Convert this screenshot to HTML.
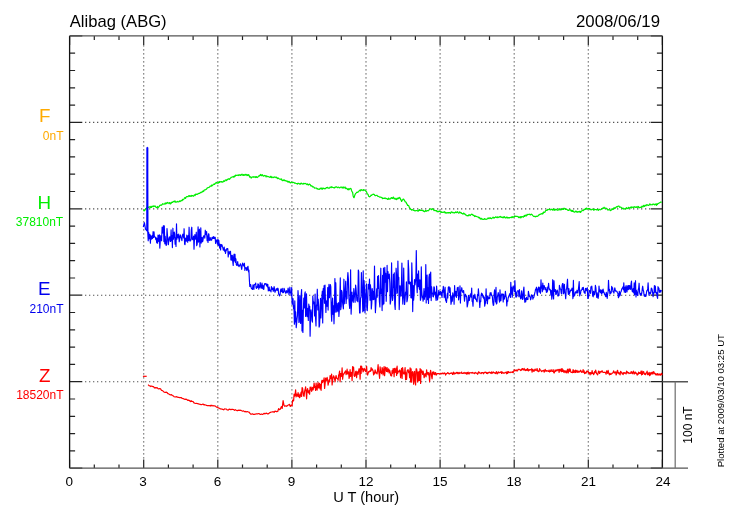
<!DOCTYPE html>
<html><head><meta charset="utf-8">
<style>
html,body{margin:0;padding:0;background:#fff;}
body{width:730px;height:520px;position:relative;overflow:hidden;font-family:"Liberation Sans",sans-serif;}
svg{position:absolute;left:0;top:0;will-change:transform;}
.t{position:absolute;white-space:pre;line-height:1;}
</style></head><body>
<svg width="730" height="520" viewBox="0 0 730 520">
<g stroke="#555" stroke-width="1.15" stroke-dasharray="1.3 2.7"><line x1="85" y1="122.3" x2="650.9" y2="122.3"/><line x1="85" y1="208.8" x2="650.9" y2="208.8"/><line x1="85" y1="295.2" x2="650.9" y2="295.2"/><line x1="85" y1="381.7" x2="650.9" y2="381.7"/><line x1="143.7" y1="45.3" x2="143.7" y2="460.1"/><line x1="217.8" y1="45.3" x2="217.8" y2="460.1"/><line x1="291.9" y1="45.3" x2="291.9" y2="460.1"/><line x1="366" y1="45.3" x2="366" y2="460.1"/><line x1="440.1" y1="45.3" x2="440.1" y2="460.1"/><line x1="514.2" y1="45.3" x2="514.2" y2="460.1"/><line x1="588.3" y1="45.3" x2="588.3" y2="460.1"/></g>
<path fill="none" stroke="#222" stroke-width="1.2" d="M69.6 35.9h12.7M662.4 35.9h-11.6M69.6 53.2h5.5M662.4 53.2h-5.5M69.6 70.5h5.5M662.4 70.5h-5.5M69.6 87.8h5.5M662.4 87.8h-5.5M69.6 105.1h5.5M662.4 105.1h-5.5M69.6 122.3h12.7M662.4 122.3h-11.6M69.6 139.6h5.5M662.4 139.6h-5.5M69.6 156.9h5.5M662.4 156.9h-5.5M69.6 174.2h5.5M662.4 174.2h-5.5M69.6 191.5h5.5M662.4 191.5h-5.5M69.6 208.8h12.7M662.4 208.8h-11.6M69.6 226.1h5.5M662.4 226.1h-5.5M69.6 243.4h5.5M662.4 243.4h-5.5M69.6 260.7h5.5M662.4 260.7h-5.5M69.6 278h5.5M662.4 278h-5.5M69.6 295.2h12.7M662.4 295.2h-11.6M69.6 312.5h5.5M662.4 312.5h-5.5M69.6 329.8h5.5M662.4 329.8h-5.5M69.6 347.1h5.5M662.4 347.1h-5.5M69.6 364.4h5.5M662.4 364.4h-5.5M69.6 381.7h12.7M662.4 381.7h-11.6M69.6 399h5.5M662.4 399h-5.5M69.6 416.3h5.5M662.4 416.3h-5.5M69.6 433.6h5.5M662.4 433.6h-5.5M69.6 450.9h5.5M662.4 450.9h-5.5M69.6 468.1h12.7M662.4 468.1h-11.6M69.6 35.9v9M69.6 468.1v-8.5M94.3 35.9v4M94.3 468.1v-3.5M119 35.9v4M119 468.1v-3.5M143.7 35.9v9M143.7 468.1v-8.5M168.4 35.9v4M168.4 468.1v-3.5M193.1 35.9v4M193.1 468.1v-3.5M217.8 35.9v9M217.8 468.1v-8.5M242.5 35.9v4M242.5 468.1v-3.5M267.2 35.9v4M267.2 468.1v-3.5M291.9 35.9v9M291.9 468.1v-8.5M316.6 35.9v4M316.6 468.1v-3.5M341.3 35.9v4M341.3 468.1v-3.5M366 35.9v9M366 468.1v-8.5M390.7 35.9v4M390.7 468.1v-3.5M415.4 35.9v4M415.4 468.1v-3.5M440.1 35.9v9M440.1 468.1v-8.5M464.8 35.9v4M464.8 468.1v-3.5M489.5 35.9v4M489.5 468.1v-3.5M514.2 35.9v9M514.2 468.1v-8.5M538.9 35.9v4M538.9 468.1v-3.5M563.6 35.9v4M563.6 468.1v-3.5M588.3 35.9v9M588.3 468.1v-8.5M613 35.9v4M613 468.1v-3.5M637.7 35.9v4M637.7 468.1v-3.5M662.4 35.9v9M662.4 468.1v-8.5"/>
<path fill="none" stroke="#111" stroke-width="1.3" d="M69.6 35.9V468.1M662.4 35.9V468.1"/>
<path fill="none" stroke="#555" stroke-width="1.4" d="M69.6 35.9H662.4M69.6 468.1H688M662.4 381.7H688"/>
<path fill="none" stroke="#777" stroke-width="1.3" d="M675.2 381.7V468.1"/>
<polyline fill="none" stroke="#00ee00" stroke-width="1.2" stroke-linejoin="round" points="143.6,211.2 144.1,210.1 144.6,210.7 145.1,209.5 145.6,209.1 146.1,208.3 146.6,208.3 147.1,207.2 147.6,207.1 148.1,207.4 148.6,207.5 149.1,206.8 149.6,207.2 150.1,206.8 150.6,207.6 151.1,206.2 151.6,207.4 152.1,206.5 152.6,206.5 153.1,205.9 153.6,206.6 154.1,206 154.6,206.3 155.1,206 155.6,206.5 156.1,207.5 156.6,207.6 157.1,207.4 157.6,206.5 158.1,207.6 158.6,207.2 159.1,206.7 159.6,205.6 160.1,205.1 160.6,205.2 161.1,205.5 161.6,204.8 162.1,204.7 162.6,203.7 163.1,204 163.6,204.1 164.1,204.2 164.6,204 165.1,203.1 165.6,203.9 166.1,202.8 166.6,203.5 167.1,203 167.6,202.4 168.1,203 168.6,203 169.1,203.7 169.6,202.5 170.1,202.8 170.6,203.9 171.1,203.4 171.6,202.3 172.1,202.2 172.6,202.4 173.1,201.7 173.6,201.7 174.1,201.1 174.6,201.8 175.1,200.9 175.6,202.2 176.1,202.1 176.6,201.9 177.1,201.9 177.6,201.3 178.1,201.8 178.6,201.9 179.1,201.5 179.6,200.9 180.1,201.6 180.6,200.9 181.1,200.9 181.6,200.3 182.1,200.7 182.6,199.3 183.1,199.8 183.6,199.4 184.1,198.8 184.6,197.8 185.1,197.6 185.6,198.4 186.1,197.1 186.6,196.6 187.1,196.5 187.6,196.7 188.1,196.6 188.6,195.8 189.1,195.7 189.6,196.3 190.1,195.7 190.6,196.2 191.1,196.4 191.6,195.4 192.1,195.8 192.6,195.6 193.1,196.1 193.6,196.2 194.1,195.2 194.6,194.8 195.1,195.5 195.6,194.1 196.1,194.4 196.6,194.3 197.1,193.8 197.6,194.3 198.1,193.9 198.6,193.3 199.1,193.3 199.6,193.5 200.1,192.8 200.6,192.3 201.1,192.7 201.6,192 202.1,192.2 202.6,191.3 203.1,190.8 203.6,191.5 204.1,190.3 204.6,189.9 205.1,189.8 205.6,189.7 206.1,189.3 206.6,189.1 207.1,188 207.6,187.9 208.1,187.6 208.6,187.5 209.1,187.3 209.6,187.1 210.1,186 210.6,186.1 211.1,186.3 211.6,185.1 212.1,185.8 212.6,185.4 213.1,184.7 213.6,184.5 214.1,183.9 214.6,184.3 215.1,183.6 215.6,183.1 216.1,182.4 216.6,182.6 217.1,183.3 217.6,182.8 218.1,182.7 218.6,183 219.1,181.6 219.6,182.4 220.1,181.7 220.6,181.9 221.1,181.5 221.6,181.6 222.1,182.3 222.6,181.9 223.1,182 223.6,180.8 224.1,181 224.6,181.4 225.1,180.2 225.6,180.2 226.1,179.8 226.6,180.6 227.1,179.6 227.6,179.7 228.1,178.9 228.6,178.8 229.1,179.2 229.6,179.3 230.1,178.4 230.6,178.1 231.1,177.4 231.6,177.2 232.1,177 232.6,176.8 233.1,177.1 233.6,176.5 234.1,177.1 234.6,175.9 235.1,176.4 235.6,175.1 236.1,175.4 236.6,175.3 237.1,175.5 237.6,175.1 238.1,175.2 238.6,175.5 239.1,174.6 239.6,175.1 240.1,175.1 240.6,175.4 241.1,174.5 241.6,174.8 242.1,174.2 242.6,175.1 243.1,175.3 243.6,174.6 244.1,175.3 244.6,175.1 245.1,174.3 245.6,175 246.1,174.4 246.6,174.8 247.1,175.6 247.6,174.7 248.1,175.3 248.6,174.7 249.1,175.4 249.6,177.2 250.1,176.6 250.6,177 251.1,178.1 251.6,177.2 252.1,177 252.6,176.8 253.1,177.3 253.6,176.7 254.1,176.9 254.6,176.8 255.1,177.5 255.6,176.7 256.1,177.3 256.6,176.7 257.1,177.5 257.6,177.2 258.1,176.8 258.6,176.4 259.1,175.6 259.6,175.8 260.1,175.1 260.6,174.4 261.1,175.4 261.6,175.7 262.1,174.6 262.6,175 263.1,176 263.6,176.1 264.1,175.9 264.6,175.4 265.1,175.7 265.6,175.8 266.1,176.9 266.6,175.9 267.1,176.2 267.6,176.7 268.1,176.7 268.6,176.7 269.1,176.9 269.6,177.2 270.1,177.4 270.6,176.3 271.1,176.3 271.6,177.6 272.1,177.7 272.6,177 273.1,177.1 273.6,177.6 274.1,177.2 274.6,176.9 275.1,177.1 275.6,177.3 276.1,177.7 276.6,177.2 277.1,178.1 277.6,178.5 278.1,177.9 278.6,178.4 279.1,178.7 279.6,179.1 280.1,179.1 280.6,179.2 281.1,179.7 281.6,178.9 282.1,180.4 282.6,180.6 283.1,180.5 283.6,179.9 284.1,180.7 284.6,180 285.1,180.7 285.6,180.6 286.1,181.2 286.6,180.9 287.1,180.9 287.6,182 288.1,181.4 288.6,182 289.1,181.4 289.6,182.3 290.1,182.7 290.6,182.8 291.1,182.2 291.6,182 292.1,182.8 292.6,182.4 293.1,182.5 293.6,182.4 294.1,182.8 294.6,183.2 295.1,182.9 295.6,183.3 296.1,183.5 296.6,183.7 297.1,183.4 297.6,184 298.1,183.3 298.6,183.4 299.1,183.6 299.6,184.1 300.1,183.7 300.6,184.1 301.1,183 301.6,183.4 302.1,183.9 302.6,183.9 303.1,184.1 303.6,183.3 304.1,183.4 304.6,183.7 305.1,183.7 305.6,183.4 306.1,183.9 306.6,184.4 307.1,184.6 307.6,184 308.1,184.7 308.6,185 309.1,184.2 309.6,184.2 310.1,184.5 310.6,185.4 311.1,186.1 311.6,185.8 312.1,186.1 312.6,186.9 313.1,186.8 313.6,186.8 314.1,187.5 314.6,188.1 315.1,188 315.6,188 316.1,188.2 316.6,188 317.1,189 317.6,188.6 318.1,189.2 318.6,189.1 319.1,189.5 319.6,189.3 320.1,188.3 320.6,188.7 321.1,188 321.6,189 322.1,188.2 322.6,189.2 323.1,188.1 323.6,188.4 324.1,188.4 324.6,188.8 325.1,188.4 325.6,188.7 326.1,187.9 326.6,187.5 327.1,187.6 327.6,187.3 328.1,188.2 328.6,188.1 329.1,188.1 329.6,188.1 330.1,187.1 330.6,187 331.1,187.7 331.6,186.7 332.1,187.1 332.6,187.4 333.1,187.5 333.6,187.5 334.1,188 334.6,188 335.1,187.1 335.6,187.2 336.1,186.8 336.6,186.9 337.1,187.4 337.6,187.7 338.1,187.2 338.6,187 339.1,187.8 339.6,187.8 340.1,187.6 340.6,187.1 341.1,187.1 341.6,187.2 342.1,188 342.6,188 343.1,186.8 343.6,188 344.1,187.9 344.6,187.7 345.1,186.9 345.6,188.4 346.1,188.7 346.6,188.2 347.1,188.6 347.6,189.5 348.1,189.8 348.6,188.7 349.1,189.7 349.6,189 350.1,188.5 350.6,188.4 351.1,188.8 351.6,190.7 352.1,191.6 352.6,192.4 353.1,195.7 353.6,197.3 354.1,197.7 354.6,195.8 355.1,194.6 355.6,193.5 356.1,193.1 356.6,192.4 357.1,192.2 357.6,192.3 358.1,192 358.6,191.7 359.1,190.8 359.6,190.3 360.1,190.1 360.6,190.9 361.1,189.5 361.6,190.2 362.1,190 362.6,190 363.1,190.5 363.6,189.6 364.1,190.2 364.6,189.9 365.1,190.2 365.6,191 366.1,191.3 366.6,191.9 367.1,193.7 367.6,194.1 368.1,194.4 368.6,196.3 369.1,196.5 369.6,196.9 370.1,196.3 370.6,196.1 371.1,195.1 371.6,195.3 372.1,194.8 372.6,194.5 373.1,194.1 373.6,194.4 374.1,194.4 374.6,195 375.1,195.6 375.6,195.6 376.1,195.5 376.6,195.4 377.1,195.3 377.6,196.2 378.1,196.3 378.6,196.5 379.1,196.7 379.6,197.2 380.1,197.2 380.6,197 381.1,197.4 381.6,197.6 382.1,197.7 382.6,198.6 383.1,198.4 383.6,198.3 384.1,198.2 384.6,198.3 385.1,197.8 385.6,198.4 386.1,198.7 386.6,198.4 387.1,198.7 387.6,199.5 388.1,199.3 388.6,198.1 389.1,199.2 389.6,198.9 390.1,198.9 390.6,198.8 391.1,197.8 391.6,197.6 392.1,198.3 392.6,198.4 393.1,197.3 393.6,197.1 394.1,198.7 394.6,198.9 395.1,198.3 395.6,199.3 396.1,198.9 396.6,199.5 397.1,198.2 397.6,198.8 398.1,198.1 398.6,198.5 399.1,197.4 399.6,198.1 400.1,197.9 400.6,199.5 401.1,200 401.6,201.5 402.1,200.4 402.6,199.8 403.1,199.2 403.6,199.2 404.1,199.9 404.6,200.6 405.1,201.8 405.6,201.9 406.1,202.3 406.6,203.8 407.1,204.1 407.6,205.5 408.1,205.4 408.6,205.5 409.1,206.7 409.6,208.2 410.1,208.2 410.6,209.3 411.1,209.3 411.6,210.1 412.1,209.5 412.6,209.8 413.1,209.8 413.6,210.3 414.1,210.3 414.6,210.8 415.1,211 415.6,210.6 416.1,210.7 416.6,210.5 417.1,210.5 417.6,210.7 418.1,211.3 418.6,210.1 419.1,210.3 419.6,209.6 420.1,210.5 420.6,210.4 421.1,210.3 421.6,210.5 422.1,210.4 422.6,210.6 423.1,210.4 423.6,211.2 424.1,211.6 424.6,211.6 425.1,210.9 425.6,210.5 426.1,211.4 426.6,210.8 427.1,210.7 427.6,210.7 428.1,210.8 428.6,210.2 429.1,209.9 429.6,209.3 430.1,209 430.6,209 431.1,208.8 431.6,209.7 432.1,209.2 432.6,208.7 433.1,209.3 433.6,209.7 434.1,210.6 434.6,210.2 435.1,210.7 435.6,210.5 436.1,210.9 436.6,210.6 437.1,211.7 437.6,211.3 438.1,211.8 438.6,211.6 439.1,211 439.6,211.3 440.1,211.4 440.6,212.1 441.1,211.6 441.6,212.5 442.1,212.4 442.6,212.3 443.1,212.1 443.6,212.4 444.1,212 444.6,211.7 445.1,212.9 445.6,212.4 446.1,213.1 446.6,212.9 447.1,212.8 447.6,212.6 448.1,213.1 448.6,212.5 449.1,212.7 449.6,212.6 450.1,213.2 450.6,213.3 451.1,212.1 451.6,211.9 452.1,212.3 452.6,212.7 453.1,212.3 453.6,212.8 454.1,213.1 454.6,212.6 455.1,212.6 455.6,211.9 456.1,212.5 456.6,212.6 457.1,212 457.6,211.7 458.1,212.6 458.6,213.1 459.1,212.6 459.6,212 460.1,212.9 460.6,212.3 461.1,212.5 461.6,213.4 462.1,213.5 462.6,213.9 463.1,214.1 463.6,213 464.1,213.6 464.6,214.2 465.1,214 465.6,215 466.1,215.1 466.6,215.3 467.1,215.8 467.6,215.6 468.1,215.9 468.6,215.1 469.1,214.6 469.6,215 470.1,215.6 470.6,215 471.1,214.6 471.6,214.2 472.1,214.3 472.6,214.5 473.1,215.5 473.6,215.2 474.1,215.5 474.6,216.5 475.1,215.8 475.6,216.5 476.1,216.3 476.6,216.5 477.1,216.8 477.6,217 478.1,216.8 478.6,217.7 479.1,217.8 479.6,217.4 480.1,218.8 480.6,219.1 481.1,218.3 481.6,218.6 482.1,219.4 482.6,219.2 483.1,219.2 483.6,219.4 484.1,219.4 484.6,218.6 485.1,218.9 485.6,219.3 486.1,219.3 486.6,219.2 487.1,219 487.6,218.8 488.1,217.8 488.6,218.3 489.1,218.7 489.6,218 490.1,217.6 490.6,218.3 491.1,218.4 491.6,218.7 492.1,218.2 492.6,217.7 493.1,217.1 493.6,217.9 494.1,218.1 494.6,217.5 495.1,217.5 495.6,216.8 496.1,217.1 496.6,217.4 497.1,217.6 497.6,216.9 498.1,217.6 498.6,217.2 499.1,217.1 499.6,216.6 500.1,217.2 500.6,216.4 501.1,216.8 501.6,217.5 502.1,217.5 502.6,217.7 503.1,216.7 503.6,217.7 504.1,217.1 504.6,216.7 505.1,217.8 505.6,217.9 506.1,218 506.6,217.1 507.1,217 507.6,218 508.1,217.6 508.6,217.9 509.1,217.6 509.6,217.9 510.1,217.4 510.6,217.5 511.1,217.6 511.6,216.9 512.1,217.5 512.6,216.7 513.1,217.4 513.6,216.8 514.1,216.9 514.6,216 515.1,216.4 515.6,216.4 516.1,216.1 516.6,216.5 517.1,216.5 517.6,216.4 518.1,216.7 518.6,217.6 519.1,216.7 519.6,217.5 520.1,217.9 520.6,216.6 521.1,217.7 521.6,216.7 522.1,216.6 522.6,216.5 523.1,217.2 523.6,216.9 524.1,215.6 524.6,216.4 525.1,215.2 525.6,215.3 526.1,216 526.6,215.6 527.1,214.3 527.6,214.8 528.1,214.3 528.6,214.5 529.1,214.5 529.6,214.1 530.1,214.8 530.6,215 531.1,214.2 531.6,214.3 532.1,214.7 532.6,215.3 533.1,215.8 533.6,216.3 534.1,216.3 534.6,216.4 535.1,216.6 535.6,216.8 536.1,216.2 536.6,216.3 537.1,216.4 537.6,216.2 538.1,215.8 538.6,215.5 539.1,214.4 539.6,214.6 540.1,214.5 540.6,214.1 541.1,213.7 541.6,213.8 542.1,214.1 542.6,213 543.1,213.6 543.6,212 544.1,212.2 544.6,212.3 545.1,212 545.6,210.6 546.1,210.5 546.6,210.1 547.1,210.4 547.6,209.4 548.1,209.7 548.6,209.5 549.1,209.2 549.6,209.6 550.1,209.7 550.6,209.9 551.1,209.6 551.6,209.2 552.1,209.6 552.6,210.1 553.1,209.1 553.6,209.8 554.1,209.1 554.6,210.3 555.1,209.4 555.6,209.8 556.1,209.2 556.6,209.8 557.1,210.1 557.6,210.2 558.1,210 558.6,210 559.1,208.7 559.6,209.8 560.1,208.7 560.6,209.8 561.1,209.9 561.6,209.4 562.1,209.2 562.6,209.3 563.1,208.4 563.6,209.4 564.1,208.2 564.6,208.5 565.1,208.7 565.6,209.4 566.1,209.2 566.6,209.3 567.1,209.6 567.6,210.1 568.1,210.4 568.6,210.5 569.1,209.9 569.6,209.7 570.1,209.9 570.6,210.1 571.1,211.1 571.6,210.3 572.1,211.4 572.6,210.5 573.1,211.6 573.6,211.2 574.1,211.9 574.6,212.2 575.1,212 575.6,211.2 576.1,211.1 576.6,211.6 577.1,212.4 577.6,211.8 578.1,211.5 578.6,211.8 579.1,212.2 579.6,211.4 580.1,211.3 580.6,212.4 581.1,211.4 581.6,211.1 582.1,210.6 582.6,210.2 583.1,210.7 583.6,210.3 584.1,209.2 584.6,209.6 585.1,209.5 585.6,208.5 586.1,209.1 586.6,208 587.1,209.1 587.6,209.2 588.1,208.5 588.6,208.6 589.1,208.7 589.6,208.6 590.1,209.7 590.6,209.6 591.1,209.8 591.6,209.7 592.1,209.3 592.6,209.1 593.1,209.5 593.6,210.2 594.1,209.1 594.6,209.8 595.1,209.5 595.6,209.5 596.1,209.6 596.6,209.9 597.1,209.3 597.6,209.3 598.1,210.3 598.6,210.2 599.1,209.6 599.6,209.3 600.1,209.6 600.6,209.8 601.1,209.4 601.6,208.8 602.1,208.8 602.6,208.2 603.1,208.5 603.6,208 604.1,207.2 604.6,208 605.1,208.6 605.6,208.3 606.1,208.1 606.6,208.6 607.1,208.7 607.6,209.9 608.1,210 608.6,209.6 609.1,209.9 609.6,209.8 610.1,210 610.6,210.5 611.1,210 611.6,210 612.1,208.5 612.6,209.4 613.1,209.2 613.6,208.8 614.1,207.6 614.6,208.4 615.1,208.3 615.6,207.7 616.1,207.1 616.6,206.6 617.1,207.1 617.6,206.5 618.1,206.2 618.6,206.1 619.1,206.2 619.6,207.3 620.1,207 620.6,207 621.1,207.4 621.6,207.8 622.1,208.6 622.6,208.2 623.1,208 623.6,209.1 624.1,209 624.6,208.7 625.1,209.2 625.6,208.4 626.1,208.3 626.6,207.7 627.1,208.5 627.6,208.4 628.1,208.7 628.6,207.3 629.1,207.8 629.6,207.8 630.1,207.7 630.6,207.1 631.1,208.1 631.6,206.9 632.1,207.6 632.6,207.1 633.1,207.2 633.6,207.7 634.1,206.7 634.6,207.1 635.1,206.8 635.6,207.3 636.1,207.2 636.6,207.3 637.1,206.5 637.6,207.3 638.1,207.3 638.6,206.5 639.1,207.8 639.6,207.6 640.1,207.5 640.6,207.4 641.1,206.8 641.6,207.3 642.1,206 642.6,206.7 643.1,206.9 643.6,205.4 644.1,206.1 644.6,206.4 645.1,205.1 645.6,205.5 646.1,205.8 646.6,204.8 647.1,204.6 647.6,205.2 648.1,205.3 648.6,205.4 649.1,204.9 649.6,204 650.1,205 650.6,204.2 651.1,204.5 651.6,204.7 652.1,205 652.6,204.3 653.1,203.8 653.6,204.3 654.1,204.4 654.6,204.8 655.1,204.1 655.6,204.6 656.1,204 656.6,205.4 657.1,203.8 657.6,204.3 658.1,203.5 658.6,203.3 659.1,203.2 659.6,202.7 660.1,202.4 660.6,202.1 661.1,202.1 661.6,202.4"/>
<polyline fill="none" stroke="#0000ff" stroke-width="1.15" stroke-linejoin="round" points="143.3,227 144.4,222.7 145.5,229.2 147,231 147.3,147.3 147.7,231.4 148.2,240.8 148.6,232 149,238.9 149.5,236.3 149.9,234.2 150.4,243.2 150.8,235.7 151.3,237.4 151.7,239.1 152.2,235.7 152.6,238.5 153.1,231.7 153.5,237.4 154,231.8 154.4,236.9 154.9,236.8 155.3,237.1 155.8,239.6 156.2,237.7 156.7,242.8 157.1,238.5 157.6,243.2 158,235.1 158.5,235.8 158.9,241.5 159.4,234.8 159.8,248.1 160.3,240.7 160.7,235.7 161.2,238.4 161.6,240.8 162.1,227.1 162.5,233.1 163,232 163.4,225.7 163.9,241.6 164.3,225.8 164.8,243.8 165.2,236.4 165.7,243 166.1,245.4 166.6,244.6 167,228.5 167.5,235.6 167.9,240.2 168.4,244.7 168.8,239.7 169.3,237.3 169.7,236.8 170.2,241.2 170.6,241.4 171.1,229.9 171.5,240.6 172,235.6 172.4,247.6 172.9,228.2 173.3,239.5 173.8,237.2 174.2,232 174.7,233.9 175.1,244.2 175.6,237.8 176,246.5 176.5,223.9 176.9,239.1 177.4,234.6 177.8,236.7 178.3,237.9 178.7,234.1 179.2,241.8 179.6,239.8 180.1,235.7 180.5,234.9 181,237.5 181.4,238.3 181.9,240.7 182.3,236.3 182.8,234.2 183.2,234.4 183.7,238 184.1,228.7 184.6,244.2 185,244.6 185.5,238 185.9,240 186.4,241.2 186.8,235.1 187.3,237.7 187.7,242.3 188.2,235.6 188.6,240.5 189.1,227.2 189.5,239 190,241.2 190.4,240.3 190.9,240.2 191.3,229.9 191.8,227.2 192.2,239.1 192.7,239.7 193.1,239 193.6,236.1 194,249.2 194.5,238.5 194.9,234.5 195.4,237.9 195.8,239.3 196.3,232.2 196.7,245.7 197.2,244 197.6,238.2 198.1,226.9 198.5,242.1 199,239.6 199.4,229.2 199.9,247 200.3,238.8 200.8,227.8 201.2,243.1 201.7,239.1 202.1,237.3 202.6,241.8 203,240.2 203.5,236.5 203.9,235.7 204.4,235.9 204.8,238.2 205.3,230.2 205.7,233.9 206.2,234.6 206.6,231.6 207.1,240.6 207.5,236 208,242.4 208.4,233.8 208.9,234 209.3,240.5 209.8,239.9 210.2,237.6 210.7,240.2 211.1,239.5 211.6,240.1 212,237.3 212.5,238.1 212.9,238.6 213.4,236.5 213.8,238.4 214.3,237.1 214.7,238.6 215.2,237.4 215.6,243.4 216.1,241.1 216.5,240 217,240.3 217.4,244.1 217.9,239.4 218.3,245.5 218.8,240.4 219.2,244.6 219.7,248.1 220.1,244.2 220.6,249.9 221,244.5 221.5,246.3 221.9,244.7 222.4,246.5 222.8,247.6 223.3,250.2 223.7,249.7 224.2,247 224.6,251.1 225.1,249.5 225.5,253.4 226,250.3 226.4,250.4 226.9,248.5 227.3,248.5 227.8,248.8 228.2,257 228.7,251.9 229.1,252 229.6,254 230,251.3 230.5,251.3 230.9,260 231.4,255.3 231.8,260.2 232.3,255.4 232.7,261.1 233.2,265.4 233.6,256.9 234.1,254.1 234.5,261 235,254.4 235.4,262.4 235.9,258.7 236.3,264.7 236.8,265.3 237.2,264.9 237.7,261.6 238.1,265.7 238.6,265 239,266.7 239.5,265.5 239.9,265.2 240.4,263.8 240.8,264.8 241.3,267.3 241.7,269.5 242.2,265.5 242.6,263.1 243.1,264.2 243.5,265.5 244,266.3 244.4,263.2 244.9,270.4 245.3,267.7 245.8,268.2 246.2,267.5 246.7,270.4 247.1,270.2 247.6,267 248,266.3 248.5,271.8 248.9,270.1 249.4,280.3 249.8,286.5 250.3,284.5 250.7,284.5 251.2,287.8 251.6,288.7 252.1,288.6 252.5,289.4 253,284.8 253.4,285.3 253.9,289.4 254.3,284.8 254.8,284.5 255.2,284 255.7,283 256.1,287.9 256.6,288.5 257,286.5 257.5,287.5 257.9,283.9 258.4,284.2 258.8,289.2 259.3,285.9 259.7,287.5 260.2,282.6 260.6,284.6 261.1,288.2 261.5,287.9 262,283.1 262.4,288.3 262.9,285.4 263.3,289.3 263.8,289.4 264.2,285.3 264.7,283.6 265.1,284.2 265.6,283.5 266,283.9 266.5,285.8 266.9,284.1 267.4,287 267.8,284.3 268.3,290.9 268.7,289.5 269.2,287 269.6,290.7 270.1,290.6 270.5,290.2 271,291.9 271.4,286.6 271.9,288.3 272.3,289.5 272.8,288 273.2,291.1 273.7,290.9 274.1,286.5 274.6,288.9 275,292.3 275.5,290.7 275.9,290.6 276.4,288.7 276.8,288.9 277.3,290.3 277.7,288.2 278.2,288.8 278.6,294.1 279.1,294.4 279.5,295.9 280,295.1 280.4,291.2 280.9,289 281.3,291.5 281.8,291.7 282.2,288.4 282.7,292.7 283.1,292.3 283.6,292.6 284,288.3 284.5,289.6 284.9,291.5 285.4,292.1 285.8,293.3 286.3,290.7 286.7,291 287.2,292.8 287.6,291.5 288.1,288.1 288.5,290.1 289,294.7 289.4,291.3 289.9,287.2 290.3,292.7 290.8,292.6 291.2,295.6 291.7,287.6 292.1,304.3 292.6,303.7 293,298.5 293.5,308.6 293.9,305.7 294.4,324.2 294.8,300.9 295.3,322 295.7,311.9 296.2,327.6 296.6,323.9 297.1,318.3 297.5,315.3 298,290.5 298.4,297 298.9,322.5 299.3,309 299.8,295.6 300.2,321.5 300.7,323.5 301.1,296.1 301.6,289.6 302,330.9 302.5,310.4 302.9,332.4 303.4,308.7 303.8,298 304.3,307.9 304.7,294.2 305.2,291.9 305.6,316.5 306.1,312.9 306.5,293.8 307,316.6 307.4,312 307.9,308.3 308.3,320.4 308.8,304 309.2,309.2 309.7,306.2 310.1,336.2 310.6,313.6 311,309.9 311.5,313.3 311.9,320.4 312.4,322.2 312.8,296 313.3,303.3 313.7,301.8 314.2,305.3 314.6,315.9 315.1,294.1 315.5,317 316,325.9 316.4,306 316.9,303.8 317.3,289.2 317.8,309.9 318.2,299.2 318.7,306.6 319.1,327.1 319.6,325.3 320,313.8 320.5,298.4 320.9,317.9 321.4,307.9 321.8,298.3 322.3,291.2 322.7,323 323.2,288.6 323.6,298.7 324.1,285.7 324.5,303.3 325,285 325.4,298.6 325.9,312.5 326.3,300.8 326.8,303.7 327.2,306.3 327.7,287.6 328.1,310.1 328.6,289.4 329,284.3 329.5,297.7 329.9,292 330.4,284.5 330.8,286.9 331.3,313.4 331.7,321.2 332.2,303.3 332.6,298.1 333.1,314.5 333.5,305.7 334,323.8 334.4,309.1 334.9,278.6 335.3,312.1 335.8,282.7 336.2,300.5 336.7,311.9 337.1,303.3 337.6,310.2 338,311.2 338.5,302.7 338.9,316.4 339.4,308.6 339.8,299 340.3,277.9 340.7,309.7 341.2,306.4 341.6,290.4 342.1,292.5 342.5,302.2 343,305.9 343.4,308.8 343.9,279.2 344.3,303.8 344.8,296.4 345.2,290.1 345.7,281.2 346.1,303.4 346.6,291.7 347,298.8 347.5,278.4 347.9,272.6 348.4,279.2 348.8,295.7 349.3,304.4 349.7,308.4 350.2,299.4 350.6,269.8 351.1,314.1 351.5,305.7 352,292 352.4,301 352.9,295.5 353.3,302.3 353.8,288.6 354.2,292.8 354.7,297.2 355.1,302.3 355.6,285 356,288.1 356.5,295 356.9,300.7 357.4,297.4 357.8,301.7 358.3,270 358.7,271.4 359.2,299.7 359.6,312.9 360.1,312.9 360.5,298.3 361,297 361.4,272.6 361.9,287.6 362.3,293.2 362.8,311.8 363.2,270.9 363.7,310.7 364.1,280.5 364.6,291.8 365,312.8 365.5,295.7 365.9,294.1 366.4,283.9 366.8,307.6 367.3,310.7 367.7,300.6 368.2,284.4 368.6,285.1 369.1,288.8 369.5,279.1 370,300.2 370.4,284.7 370.9,290 371.3,308.9 371.8,303 372.2,288.6 372.7,293.2 373.1,299.7 373.6,291 374,299.3 374.5,266 374.9,293.2 375.4,312.6 375.8,305.8 376.3,296.5 376.7,288.8 377.2,297.2 377.6,276.3 378.1,288.4 378.5,275.6 379,290.1 379.4,301.8 379.9,307 380.3,289.5 380.8,268.2 381.2,293.3 381.7,289.2 382.1,310.6 382.6,275.3 383,304.7 383.5,268 383.9,303.7 384.4,282 384.8,267.4 385.3,282.2 385.7,273.3 386.2,301.3 386.6,290.1 387.1,265.4 387.5,291.6 388,271.5 388.4,278.7 388.9,276.7 389.3,274 389.8,283.2 390.2,304.1 390.7,301.5 391.1,291.2 391.6,262.9 392,295.3 392.5,300.5 392.9,297.8 393.4,274.4 393.8,287.7 394.3,272.8 394.7,304.3 395.2,309.4 395.6,291.9 396.1,268.2 396.5,274.1 397,293.4 397.4,292.8 397.9,261 398.3,279.4 398.8,277.4 399.2,309.6 399.7,296.6 400.1,285.7 400.6,292.4 401,296.1 401.5,282.3 401.9,263 402.4,292.8 402.8,304.1 403.3,294.7 403.7,268.1 404.2,294.7 404.6,304.5 405.1,299.2 405.5,292.2 406,294.5 406.4,281.9 406.9,301.8 407.3,300.1 407.8,296.5 408.2,260.4 408.7,269.2 409.1,283.6 409.6,281.9 410,284.1 410.5,282.2 410.9,297.8 411.4,298 411.8,262.9 412.3,280.3 412.7,311.6 413.2,285.5 413.6,300.2 414.1,294.4 414.5,279.6 415,284.9 415.4,282.2 415.9,276.6 416.3,250.6 416.8,285 417.2,292.8 417.7,274.1 418.1,286.5 418.6,270.9 419,286.7 419.5,289.4 419.9,279.8 420.4,300.3 420.8,298.9 421.3,266.8 421.7,289.5 422.2,297.3 422.6,296.4 423.1,301.1 423.5,296.9 424,288.5 424.4,299.3 424.9,291.3 425.3,296.8 425.8,264.5 426.2,302.9 426.7,275.9 427.1,275.1 427.6,299.8 428,287.9 428.5,303.4 428.9,277.6 429.4,274.1 429.8,297.8 430.3,276.1 430.7,272.1 431.2,300.6 431.6,286.7 432.1,293.5 432.5,293 433,296.6 433.4,296.9 433.9,286.8 434.3,287.1 434.8,294.7 435.2,292.1 435.7,297.1 436.1,300.5 436.6,286 437,292.7 437.5,299.9 437.9,297.3 438.4,294.9 438.8,290.3 439.3,294.8 439.7,294.7 440.2,291.7 440.6,291.5 441.1,295.2 441.5,292.4 442,297.5 442.4,290.4 442.9,292.2 443.3,286.4 443.8,291 444.2,297.7 444.7,292 445.1,287.2 445.6,300.1 446,300.8 446.5,302.5 446.9,298.5 447.4,293.4 447.8,297.9 448.3,287.3 448.7,286.7 449.2,286.7 449.6,292.5 450.1,287.9 450.5,295.5 451,304.3 451.4,301.6 451.9,295.8 452.3,301.1 452.8,292.9 453.2,295.3 453.7,295.9 454.1,304.3 454.6,285.6 455,295.8 455.5,296 455.9,291.3 456.4,297.5 456.8,294.1 457.3,287.7 457.7,288.2 458.2,287.2 458.6,299.9 459.1,296 459.5,293.9 460,285.9 460.4,303.1 460.9,290.3 461.3,290.7 461.8,287.7 462.2,291 462.7,292.2 463.1,292.4 463.6,290.5 464,294.4 464.5,301.1 464.9,297.5 465.4,294.2 465.8,296.1 466.3,295.8 466.7,297.2 467.2,307 467.6,304.8 468.1,301.8 468.5,295.4 469,300.6 469.4,300.4 469.9,296.7 470.3,296.2 470.8,293.7 471.2,297.2 471.7,288 472.1,301.3 472.6,301.7 473,306.2 473.5,295.6 473.9,295.7 474.4,298.3 474.8,294.2 475.3,297 475.7,299.4 476.2,299.1 476.6,300.9 477.1,301.8 477.5,294.6 478,295.4 478.4,288.8 478.9,295.3 479.3,299.8 479.8,307.4 480.2,301.1 480.7,301.6 481.1,295.1 481.6,293.1 482,295.3 482.5,294 482.9,297.2 483.4,295.8 483.8,298.7 484.3,297.1 484.7,306.2 485.2,303.4 485.6,303 486.1,288.8 486.5,300.3 487,296.3 487.4,303.8 487.9,295.9 488.3,298.9 488.8,297.8 489.2,297.8 489.7,298.7 490.1,292.9 490.6,294.8 491,292.6 491.5,295.3 491.9,295.2 492.4,297 492.8,302.5 493.3,305.4 493.7,305 494.2,293.4 494.6,289.8 495.1,295.6 495.5,302 496,287.4 496.4,304 496.9,303.1 497.3,297.1 497.8,295.4 498.2,292.5 498.7,294.8 499.1,299.7 499.6,302.1 500,289.9 500.5,299.9 500.9,300.8 501.4,295.2 501.8,293.9 502.3,294.6 502.7,294.1 503.2,302 503.6,294.2 504.1,299.3 504.5,298.5 505,296.1 505.4,291.3 505.9,296.3 506.3,297.1 506.8,305.9 507.2,300.6 507.7,301.4 508.1,298.2 508.6,296.8 509,295.7 509.5,294.5 509.9,293.6 510.4,297.4 510.8,282.3 511.3,294.2 511.7,287.3 512.2,297.1 512.6,292.8 513.1,286 513.5,288 514,286.9 514.4,291.7 514.9,280.6 515.3,290.1 515.8,297 516.2,292.7 516.7,297 517.1,291.4 517.6,290.8 518,290.7 518.5,290.7 518.9,296.6 519.4,289.6 519.8,293.5 520.3,297.2 520.7,299 521.2,297.9 521.6,290.8 522.1,294.3 522.5,299.4 523,299 523.4,291 523.9,287 524.3,295.3 524.8,302.1 525.2,298.4 525.7,302 526.1,298.8 526.6,297.3 527,299.6 527.5,299.1 527.9,299.5 528.4,291.4 528.8,293.7 529.3,296.5 529.7,296.4 530.2,297.2 530.6,299.8 531.1,298.1 531.5,294.9 532,295.5 532.4,295.3 532.9,299.2 533.3,297.7 533.8,297.5 534.2,295.5 534.7,293.3 535.1,291.7 535.6,289 536,289.6 536.5,287.2 536.9,292.6 537.4,295.1 537.8,289.2 538.3,288 538.7,287 539.2,292.1 539.6,289.4 540.1,287.2 540.5,293.3 541,279.8 541.4,288.1 541.9,286 542.3,291.7 542.8,283 543.2,289.9 543.7,286.7 544.1,285.5 544.6,287.1 545,289.7 545.5,289.6 545.9,287.6 546.4,292.5 546.8,289.9 547.3,292 547.7,287 548.2,288 548.6,283.3 549.1,289.9 549.5,288.9 550,289.4 550.4,290.1 550.9,294.9 551.3,290.5 551.8,299.1 552.2,295.2 552.7,279.7 553.1,291.7 553.6,299 554,280.7 554.5,291.5 554.9,289.8 555.4,289.6 555.8,294.4 556.3,294.2 556.7,291 557.2,290.1 557.6,291.2 558.1,296.2 558.5,294.5 559,295.5 559.4,285.3 559.9,288 560.3,289 560.8,289.2 561.2,293.2 561.7,293.9 562.1,285.4 562.6,283.5 563,283.5 563.5,293.6 563.9,289.5 564.4,284.3 564.8,292.8 565.3,294 565.7,298.6 566.2,289 566.6,289.1 567.1,283.7 567.5,279.2 568,291.5 568.4,294.5 568.9,288.6 569.3,294.1 569.8,292.6 570.2,291.6 570.7,290 571.1,290.6 571.6,289.8 572,288 572.5,291.1 572.9,298.6 573.4,280.4 573.8,296.6 574.3,294.2 574.7,295.3 575.2,292.3 575.6,291.8 576.1,293 576.5,293 577,290.2 577.4,293 577.9,293 578.3,289.9 578.8,285.6 579.2,281.5 579.7,295.9 580.1,294.3 580.6,293.2 581,290 581.5,290.3 581.9,289.7 582.4,287.7 582.8,289.4 583.3,287.3 583.7,290.1 584.2,292.6 584.6,292.2 585.1,293.5 585.5,288.3 586,290.3 586.4,288.7 586.9,291 587.3,287.7 587.8,298.5 588.2,298.4 588.7,296.2 589.1,290.5 589.6,290.8 590,291.2 590.5,293.5 590.9,286.8 591.4,288 591.8,286.1 592.3,291.8 592.7,296 593.2,296.8 593.6,291.2 594.1,294.3 594.5,294.7 595,291.7 595.4,285.4 595.9,287.8 596.3,293.8 596.8,297.4 597.2,292.8 597.7,296.9 598.1,298.4 598.6,295.2 599,286.1 599.5,291.3 599.9,290.8 600.4,292.8 600.8,289.7 601.3,292.3 601.7,294.2 602.2,290.1 602.6,292.6 603.1,289.1 603.6,292.4 604,292.2 604.5,294.5 604.9,294.2 605.4,296 605.8,296.6 606.3,292.4 606.7,295.1 607.2,298.4 607.6,294.4 608.1,291.6 608.5,280.3 609,290.4 609.4,289.3 609.9,293.9 610.3,293.8 610.8,291.6 611.2,292.9 611.7,286.3 612.1,289.2 612.6,287.9 613,291.7 613.5,291.6 613.9,293.1 614.4,290 614.8,287.9 615.3,290 615.7,291.2 616.2,291.1 616.6,291 617.1,291.9 617.5,292.8 618,293.5 618.4,297.7 618.9,296.5 619.3,291.3 619.8,295.8 620.2,295.1 620.7,292.1 621.1,291.7 621.6,289.6 622,288.5 622.5,287.7 622.9,286.9 623.4,289.8 623.8,282.8 624.3,292.1 624.7,287.6 625.2,287 625.6,292.4 626.1,285.6 626.5,287.8 627,291.9 627.4,287.4 627.9,285.6 628.3,289.7 628.8,285.6 629.2,289.2 629.7,285.6 630.1,288.1 630.6,289.4 631,284.2 631.5,281.1 631.9,289.3 632.4,291.9 632.8,289.7 633.3,288.5 633.7,293 634.2,282.8 634.6,294.9 635.1,292.9 635.5,280.7 636,297 636.4,290.4 636.9,292.4 637.3,294.8 637.8,295.4 638.2,289.8 638.7,287.8 639.1,283.2 639.6,292.4 640,294 640.5,295.3 640.9,293.4 641.4,294.6 641.8,293 642.3,288.6 642.7,286.2 643.2,290.4 643.6,291.1 644.1,295.6 644.5,296.3 645,294.7 645.4,296.4 645.9,296.4 646.3,293.8 646.8,290.5 647.2,290.8 647.7,288.9 648.1,282.9 648.6,291.6 649,295.2 649.5,292.6 649.9,292.3 650.4,293.9 650.8,292.8 651.3,288.1 651.7,288.5 652.2,290 652.6,292.7 653.1,296.6 653.5,292.6 654,293.3 654.4,285.5 654.9,292.2 655.3,286 655.8,292.3 656.2,293.4 656.7,292.4 657.1,296.5 657.6,298.4 658,286.7 658.5,288.5 658.9,288.1 659.4,292.3 659.8,291.1 660.3,290.3 660.7,292.1 661.2,290.5 661.6,290.8"/>
<path stroke="#0000ff" stroke-width="1.9" d="M147.4 231V147.5"/>
<path fill="none" stroke="#ff0000" stroke-width="1.2" d="M142.9 376.3H146.7"/>
<polyline fill="none" stroke="#ff0000" stroke-width="1.2" stroke-linejoin="round" points="148.1,384.7 149,385.6 149.9,385.8 150.8,386.6 151.7,386.1 152.6,386.6 153.5,386.5 154.4,387.8 155.3,387.7 156.2,387.9 157.1,387.6 158,388.6 158.9,388.9 159.8,388.5 160.7,389.1 161.6,390.5 162.5,390.6 163.4,391.4 164.3,392.2 165.2,392.5 166.1,392.1 167,392.5 167.9,393.6 168.8,393.9 169.7,394.6 170.6,394.8 171.5,394.7 172.4,395.5 173.3,395.9 174.2,396.7 175.1,397 176,396.7 176.9,396.9 177.8,397.3 178.7,397.4 179.6,397.6 180.5,397.5 181.4,397.7 182.3,398.5 183.2,398.6 184.1,399 185,399.5 185.9,399.1 186.8,399.5 187.7,400.4 188.6,400.1 189.5,400.5 190.4,401.5 191.3,400.8 192.2,401.5 193.1,401.6 194,402.9 194.9,403.2 195.8,403.5 196.7,403.3 197.6,403.7 198.5,403.9 199.4,404.2 200.3,404.4 201.2,404.7 202.1,404.5 203,404 203.9,404.9 204.8,404.7 205.7,405 206.6,405.4 207.5,405.7 208.4,405.5 209.3,405.6 210.2,406.1 211.1,405.1 212,406 212.9,405.4 213.8,406 214.7,405.8 215.6,406.3 216.5,407.2 217.4,407 218.3,408 219.2,408.1 220.1,408.8 221,408.8 221.9,409.2 222.8,409.4 223.7,409.8 224.6,408.8 225.5,409 226.4,409.1 227.3,410 228.2,410.1 229.1,409.2 230,409.4 230.9,409.6 231.8,409.4 232.7,409.4 233.6,409.5 234.5,410.4 235.4,409.7 236.3,410.3 237.2,410.8 238.1,410.1 239,410.5 239.9,410.1 240.8,410.3 241.7,410.8 242.6,411.2 243.5,410.8 244.4,411.7 245.3,411.4 246.2,412 247.1,411.5 248,411.8 248.9,412 249.8,413.1 250.7,414.2 251.6,414.2 252.5,413.8 253.4,414.4 254.3,414.4 255.2,414.2 256.1,413.9 257,413.9 257.9,413.8 258.8,413.5 259.7,414.1 260.6,414.5 261.5,414 262.4,414.5 263.3,414 264.2,413.3 265.1,413.9 266,413.2 266.9,413.4 267.8,414 268.7,413.6 269.6,412.8 270.5,412.4 271.4,412 272.3,411.9 273.2,411.7 274.1,412.3 275,411.2 275.9,411.3 276.8,411.8 277.7,411.5 278.6,408.6 279.5,409.7 280.4,409 281.3,406.6 282.2,408.4 283.1,400.5 284,405.3 284.9,406.3 285.8,405.8 286.7,406.3 287.6,405.3 288.5,405 289.4,404.3 290.3,406.5 291.2,405.1 292.1,405.9 292.6,400.2 293.1,400.8 293.6,400.8 294.1,394.2 294.6,396.1 295.1,395.1 295.6,389.9 296.1,396.9 296.6,394.2 297.1,394.7 297.6,396.2 298.1,392.7 298.6,396.7 299.1,394.2 299.6,397.6 300.1,396.9 300.6,394.6 301.1,392 301.6,396.4 302.1,387.5 302.6,388.2 303.1,392.4 303.6,396 304.1,396.3 304.6,391.1 305.1,389.8 305.6,386.9 306.1,391.9 306.6,398.8 307.1,390.4 307.6,388.7 308.1,392.2 308.6,392.8 309.1,390.7 309.6,394.1 310.1,387.2 310.6,390 311.1,387 311.6,391.3 312.1,390 312.6,387.4 313.1,389.9 313.6,387.3 314.1,383 314.6,387.5 315.1,386.6 315.6,390.5 316.1,383.1 316.6,388.2 317.1,390.2 317.6,385.7 318.1,382.6 318.6,388 319.1,387.5 319.6,383.4 320.1,388.9 320.6,384.5 321.1,390.3 321.6,381.3 322.1,380.2 322.6,382.6 323.1,380.5 323.6,381.1 324.1,377.9 324.6,388.4 325.1,383.8 325.6,378.2 326.1,380.9 326.6,380 327.1,377.3 327.6,379.8 328.1,385.2 328.6,382.5 329.1,379.8 329.6,381.7 330.1,375.5 330.6,377.4 331.1,378.7 331.6,374 332.1,385 332.6,380.7 333.1,377.1 333.6,375.8 334.1,376.9 334.6,379.1 335.1,381.8 335.6,377.6 336.1,375.5 336.6,378.2 337.1,378.4 337.6,378.8 338.1,380.3 338.6,375.4 339.1,373.9 339.6,371.1 340.1,381.8 340.6,373.5 341.1,374 341.6,376.4 342.1,367.8 342.6,379.1 343.1,375.3 343.6,373.8 344.1,373.9 344.6,372.1 345.1,372.1 345.6,370.9 346.1,374.6 346.6,373.3 347.1,369.2 347.6,374 348.1,372.5 348.6,371.8 349.1,378.4 349.6,376 350.1,369.7 350.6,376.5 351.1,373 351.6,372.5 352.1,380.6 352.6,366.6 353.1,369.7 353.6,367.2 354.1,375.6 354.6,376.4 355.1,375.8 355.6,371.6 356.1,371.2 356.6,377.7 357.1,372.1 357.6,371.9 358.1,374.3 358.6,370.9 359.1,368.7 359.6,370 360.1,379.2 360.6,366 361.1,373.4 361.6,366.2 362.1,369.4 362.6,368.6 363.1,371.8 363.6,370.7 364.1,368.3 364.6,369.2 365.1,370.6 365.6,371.6 366.1,369.3 366.6,366.4 367.1,374.1 367.6,375 368.1,373.4 368.6,371.6 369.1,372 369.6,371 370.1,370.8 370.6,371.3 371.1,367.7 371.6,370.1 372.1,368.9 372.6,369.7 373.1,370.9 373.6,375 374.1,372.4 374.6,373.8 375.1,369.9 375.6,371.4 376.1,373.1 376.6,372.9 377.1,374 377.6,369.7 378.1,364.7 378.6,371 379.1,373.8 379.6,378.3 380.1,366.9 380.6,371.3 381.1,372.8 381.6,373.7 382.1,367.5 382.6,369.4 383.1,374.9 383.6,370.1 384.1,366.6 384.6,375.7 385.1,370.2 385.6,367.1 386.1,369.4 386.6,371.5 387.1,367.5 387.6,371.8 388.1,370.7 388.6,368.8 389.1,373 389.6,370.1 390.1,372 390.6,375.1 391.1,375.8 391.6,376 392.1,370.5 392.6,373.3 393.1,368.6 393.6,369 394.1,376.6 394.6,368.3 395.1,372.5 395.6,370.9 396.1,368.2 396.6,375.5 397.1,366.2 397.6,373.7 398.1,371.6 398.6,371.1 399.1,371.8 399.6,370 400.1,371.2 400.6,377.7 401.1,371.4 401.6,368.3 402.1,378.4 402.6,367.7 403.1,371.3 403.6,373.5 404.1,374.1 404.6,372.8 405.1,367.6 405.6,379.7 406.1,372.9 406.6,379.3 407.1,371.1 407.6,370 408.1,369.7 408.6,372.6 409.1,371.2 409.6,377.6 410.1,367.8 410.6,382 411.1,368.8 411.6,382.1 412.1,374.6 412.6,371.5 413.1,372.2 413.6,384.1 414.1,377.7 414.6,371.4 415.1,381.7 415.6,384.9 416.1,368.8 416.6,368.9 417.1,371.8 417.6,381.9 418.1,372.1 418.6,380.6 419.1,371.5 419.6,380.3 420.1,368.5 420.6,383.4 421.1,369.7 421.6,372.4 422.1,371 422.6,374.5 423.1,371.1 423.6,373.5 424.1,377.7 424.6,376.3 425.1,373.7 425.6,374.4 426.1,376.8 426.6,369.8 427.1,373.9 427.6,372.5 428.1,374.9 428.6,372.6 429.1,374.7 429.6,381.8 430.1,373.4 430.6,370.4 431.1,372.8 431.6,376.4 432.1,378.8 432.6,372 433.1,374.4 433.6,371.8 434.1,372.3 434.6,374.6 435.1,373.7 435.6,372.5 436.1,375.2 436.6,374.3 437.1,373.6 437.6,373.5 438.1,373.6 438.6,373.6 439.1,373.8 439.6,374.1 440.1,373.6 440.6,373.4 441.1,374 441.6,373.7 442.1,373.1 442.6,373 443.1,374 443.6,373.2 444.1,373.5 444.6,372.9 445.1,373.5 445.6,375.1 446.1,374.1 446.6,373.5 447.1,373.1 447.6,372.6 448.1,373.3 448.6,373.1 449.1,374.1 449.6,373.8 450.1,373.4 450.6,373.4 451.1,372.9 451.6,373.3 452.1,372.9 452.6,374.5 453.1,373.8 453.6,372.1 454.1,374.2 454.6,373 455.1,373.3 455.6,373.6 456.1,372.8 456.6,372.3 457.1,373.3 457.6,372.4 458.1,373.8 458.6,373.1 459.1,372.5 459.6,373.5 460.1,372.8 460.6,373 461.1,373.1 461.6,372 462.1,373.5 462.6,373.5 463.1,373.5 463.6,373 464.1,372.5 464.6,373.1 465.1,373.6 465.6,372.8 466.1,372.6 466.6,374.1 467.1,372.6 467.6,373.9 468.1,372.2 468.6,373.6 469.1,374 469.6,372.6 470.1,373 470.6,372.8 471.1,372.5 471.6,373 472.1,373.1 472.6,372.5 473.1,373 473.6,373.1 474.1,373.2 474.6,373.6 475.1,372.4 475.6,372.8 476.1,372.9 476.6,373.3 477.1,373.3 477.6,374.3 478.1,372.7 478.6,371.8 479.1,372.9 479.6,372.4 480.1,373 480.6,373.2 481.1,373.7 481.6,372.5 482.1,372.9 482.6,372.6 483.1,372.7 483.6,373.8 484.1,372.7 484.6,372.3 485.1,372.6 485.6,372.2 486.1,372.3 486.6,373.5 487.1,372.6 487.6,373.6 488.1,373.1 488.6,372.5 489.1,372.1 489.6,372.3 490.1,372.8 490.6,372.5 491.1,373.5 491.6,371.9 492.1,373.1 492.6,373.1 493.1,371.9 493.6,372.3 494.1,372.9 494.6,372.7 495.1,373.2 495.6,373.5 496.1,372.2 496.6,371.6 497.1,374 497.6,373.3 498.1,372.5 498.6,371.9 499.1,372.9 499.6,372.5 500.1,372.3 500.6,372.3 501.1,371.6 501.6,373.5 502.1,372 502.6,372.3 503.1,373.1 503.6,372.9 504.1,373.2 504.6,372.9 505.1,372.4 505.6,372.3 506.1,372.9 506.6,373.8 507.1,371.5 507.6,373.3 508.1,372.6 508.6,371.6 509.1,372.4 509.6,372.5 510.1,372.7 510.6,372 511.1,372 511.6,372.2 512.1,372.4 512.6,371.7 513.1,372.6 513.6,371.8 514.1,369.9 514.6,369.9 515.1,370.9 515.6,370.4 516.1,369.8 516.6,370.8 517.1,370.9 517.6,370.9 518.1,369.3 518.6,369.4 519.1,369.3 519.6,369.6 520.1,369.8 520.6,370.5 521.1,369.7 521.6,370.1 522.1,368.5 522.6,368.6 523.1,369.9 523.6,370 524.1,368.4 524.6,369.5 525.1,370.6 525.6,370.5 526.1,369.3 526.6,370.2 527.1,370.5 527.6,368.5 528.1,370.1 528.6,370.9 529.1,369.5 529.6,370.2 530.1,369.8 530.6,369.6 531.1,369.9 531.6,368.8 532.1,372.1 532.6,369.3 533.1,369.7 533.6,371.2 534.1,371.3 534.6,369.9 535.1,369.1 535.6,370.3 536.1,370.6 536.6,369.8 537.1,368.6 537.6,371.1 538.1,370.9 538.6,371.6 539.1,371.4 539.6,368.7 540.1,370 540.6,370 541.1,370.9 541.6,371.6 542.1,371.3 542.6,370.7 543.1,370.4 543.6,370.3 544.1,372.2 544.6,371 545.1,369.4 545.6,370.2 546.1,371.4 546.6,370.5 547.1,370.6 547.6,371 548.1,371.4 548.6,371.3 549.1,370.1 549.6,372 550.1,370.9 550.6,371.4 551.1,369.7 551.6,371.1 552.1,371.3 552.6,371.3 553.1,369.6 553.6,372.1 554.1,373 554.6,371.9 555.1,369.9 555.6,371.3 556.1,370.9 556.6,369.9 557.1,370.8 557.6,370 558.1,369.4 558.6,369.8 559.1,372.5 559.6,369.4 560.1,370.1 560.6,371 561.1,368.9 561.6,371.7 562.1,368.6 562.6,371.3 563.1,369.9 563.6,372.2 564.1,370.6 564.6,371.4 565.1,372.7 565.6,370.9 566.1,371 566.6,372.8 567.1,370.7 567.6,369.2 568.1,373 568.6,371.5 569.1,368.9 569.6,371.3 570.1,369 570.6,371 571.1,372.5 571.6,372.5 572.1,372.4 572.6,372.7 573.1,369.7 573.6,372.5 574.1,370.5 574.6,371.7 575.1,372.6 575.6,370 576.1,372.3 576.6,370.9 577.1,370.5 577.6,372.4 578.1,372.4 578.6,371.2 579.1,371.2 579.6,372 580.1,371.4 580.6,370.2 581.1,371 581.6,372.4 582.1,371.9 582.6,372.1 583.1,369.7 583.6,372.4 584.1,370.9 584.6,373.6 585.1,373.3 585.6,372.4 586.1,373.1 586.6,371.2 587.1,371.9 587.6,371.1 588.1,371 588.6,372.8 589.1,373.7 589.6,372.5 590.1,374.8 590.6,372.5 591.1,373.5 591.6,373.9 592.1,370.6 592.6,373.3 593.1,373 593.6,374.6 594.1,373.8 594.6,371.6 595.1,372.6 595.6,370 596.1,371.9 596.6,373.7 597.1,374.2 597.6,374.8 598.1,373.1 598.6,371 599.1,371.5 599.6,373.5 600.1,371.8 600.6,372.1 601.1,371.5 601.6,371.9 602.1,370.7 602.6,371.8 603.1,372.5 603.6,372.4 604.1,372.2 604.6,372.5 605.1,372.4 605.6,372.9 606.1,374.2 606.6,370.9 607.1,372.1 607.6,373.4 608.1,370.3 608.6,372.4 609.1,374.1 609.6,374.8 610.1,373.3 610.6,374.5 611.1,374 611.6,373.9 612.1,373.1 612.6,373.1 613.1,372.7 613.6,370.8 614.1,372.1 614.6,373 615.1,372.3 615.6,371.8 616.1,375 616.6,373.7 617.1,371.1 617.6,370.3 618.1,373.1 618.6,372.7 619.1,373.9 619.6,372.9 620.1,374.8 620.6,371.3 621.1,371.8 621.6,372.6 622.1,373.9 622.6,373.1 623.1,374.6 623.6,372.7 624.1,373.3 624.6,372.7 625.1,373.2 625.6,373 626.1,374 626.6,371.2 627.1,372.9 627.6,372 628.1,372.8 628.6,372.7 629.1,373.6 629.6,373.3 630.1,373 630.6,373.4 631.1,371.7 631.6,371.8 632.1,373.7 632.6,373.6 633.1,371.6 633.6,371.1 634.1,374 634.6,373.9 635.1,372.3 635.6,372.2 636.1,373.5 636.6,373.4 637.1,375.2 637.6,373.9 638.1,374.3 638.6,372.2 639.1,373.5 639.6,372.7 640.1,373.5 640.6,373.2 641.1,371 641.6,374.8 642.1,371 642.6,374.3 643.1,373 643.6,371.5 644.1,373.1 644.6,374.4 645.1,373.7 645.6,374.7 646.1,372.8 646.6,373 647.1,371.1 647.6,374.7 648.1,373.4 648.6,374.6 649.1,372.4 649.6,375.7 650.1,373.1 650.6,375 651.1,372.3 651.6,372.9 652.1,373.9 652.6,372.2 653.1,374 653.6,371.5 654.1,372.4 654.6,373.7 655.1,373.4 655.6,374.8 656.1,373.8 656.6,374.9 657.1,374.6 657.6,373.6 658.1,375.2 658.6,374.6 659.1,374 659.6,374.9 660.1,374.1 660.6,375.2 661.1,374.5 661.6,373.3 662.1,375.2"/>
<g font-family="Liberation Sans" fill="#000">
<text x="69.8" y="26.9" font-size="16.6">Alibag (ABG)</text>
<text x="660" y="26.9" font-size="16.8" text-anchor="end">2008/06/19</text>
<g font-size="13.5" text-anchor="middle">
<text x="69.3" y="486.2">0</text><text x="143" y="486.2">3</text><text x="217.5" y="486.2">6</text><text x="291.5" y="486.2">9</text>
<text x="366" y="486.2">12</text><text x="440" y="486.2">15</text><text x="514" y="486.2">18</text><text x="588.5" y="486.2">21</text><text x="663" y="486.2">24</text>
</g>
<text x="366.2" y="501.7" font-size="14.6" text-anchor="middle">U T (hour)</text>
<text transform="translate(692.1,425) rotate(-90)" font-size="12" text-anchor="middle">100 nT</text>
<text transform="translate(724.3,400.7) rotate(-90)" font-size="9.6" text-anchor="middle">Plotted at 2009/03/10 03:25 UT</text>
</g>
<g font-family="Liberation Sans" text-anchor="end">
<text x="50.6" y="122" font-size="18.8" fill="#ffaa00">F</text>
<text x="63.5" y="139.8" font-size="12" fill="#ffaa00">0nT</text>
<text x="51" y="208.8" font-size="18.8" fill="#00ee00">H</text>
<text x="63.2" y="225.9" font-size="12" fill="#00ee00">37810nT</text>
<text x="50.6" y="295.2" font-size="18.8" fill="#0000ee">E</text>
<text x="63.5" y="312.8" font-size="12" fill="#0000ee">210nT</text>
<text x="50.4" y="381.9" font-size="18.8" fill="#ff0000">Z</text>
<text x="63.5" y="399.2" font-size="12" fill="#ff0000">18520nT</text>
</g>
</svg>
</body></html>
